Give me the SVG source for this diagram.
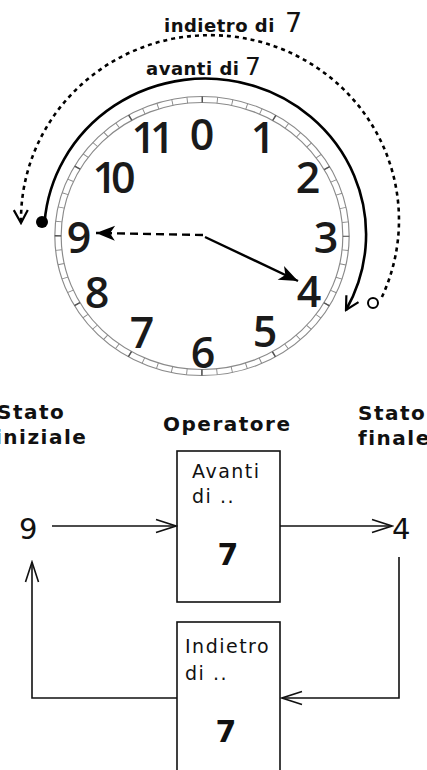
<svg xmlns="http://www.w3.org/2000/svg" width="427" height="770" viewBox="0 0 427 770">
<style>
  .dig { font-family: "Open Sans", "DejaVu Sans", sans-serif; font-size: 43px; font-weight: 600; fill: #1a1a1a; text-anchor: middle; }
  .pair { letter-spacing: -6px; }
  .lbl { font-family: "DejaVu Sans", sans-serif; font-weight: bold; font-size: 18px; fill: #111; letter-spacing: 0.5px; }
  .big7 { font-family: "DejaVu Sans", sans-serif; font-weight: normal; fill: #111; }
  .head { font-family: "DejaVu Sans", sans-serif; font-weight: bold; font-size: 20px; fill: #111; letter-spacing: 1.5px; }
  .boxt { font-family: "DejaVu Sans", sans-serif; font-size: 19px; fill: #111; letter-spacing: 1.5px; }
  .box7 { font-family: "DejaVu Sans", sans-serif; font-weight: bold; font-size: 30px; fill: #111; text-anchor: middle; }
  .state { font-family: "DejaVu Sans", sans-serif; font-size: 29px; fill: #111; }
  .box { fill: #fff; stroke: #111; stroke-width: 1.6; }
  .conn { fill: none; stroke: #111; stroke-width: 1.6; }
  .ring { fill: none; stroke: #8a8a8a; stroke-width: 1.1; }
</style>
<defs>
  <marker id="fillArrow" markerUnits="userSpaceOnUse" viewBox="-1 -9 21 18" refX="19" refY="0" markerWidth="21" markerHeight="18" orient="auto">
    <path d="M0,-7.5 L19,0 L0,7.5 L5,0 Z" fill="#000"/>
  </marker>
  <marker id="openArc" markerUnits="userSpaceOnUse" viewBox="-16 -10 18 20" refX="0" refY="0" markerWidth="18" markerHeight="20" orient="auto">
    <path d="M-13,-7 L0,0 L-13,7" fill="none" stroke="#000" stroke-width="2.2"/>
  </marker>
  <marker id="openConn" markerUnits="userSpaceOnUse" viewBox="-22 -9 24 18" refX="0" refY="0" markerWidth="24" markerHeight="18" orient="auto">
    <path d="M-20,-6.5 L0,0 L-20,6.5" fill="none" stroke="#111" stroke-width="1.6"/>
  </marker>
</defs>
<rect width="427" height="770" fill="#fff"/>

<g id="clock-face" transform="translate(202,236) scale(1.055,1)">
  <circle class="ring" r="139.5"/>
  <circle class="ring" r="133.5"/>
  <circle r="136.5" fill="none" stroke="#8a8a8a" stroke-width="6" stroke-dasharray="0.9 13.395" stroke-dashoffset="0.45"/>
  <circle r="136.5" fill="none" stroke="#555" stroke-width="6" stroke-dasharray="1.4 70.074" stroke-dashoffset="0.7"/>
</g>

<g id="clock-numbers">
  <text class="dig" x="202" y="150">0</text>
  <text class="dig" x="263" y="153">1</text>
  <text class="dig pair" x="150" y="153">11</text>
  <text class="dig pair" x="111" y="193">10</text>
  <text class="dig" x="308" y="193">2</text>
  <text class="dig" x="326" y="253">3</text>
  <text class="dig" x="79" y="253">9</text>
  <text class="dig" x="309" y="307">4</text>
  <text class="dig" x="97" y="308">8</text>
  <text class="dig" x="142" y="348">7</text>
  <text class="dig" x="265" y="347">5</text>
  <text class="dig" x="203" y="368">6</text>
</g>

<g id="labels-top">
  <text class="lbl" x="164" y="32">indietro di<tspan class="big7" x="285" font-size="27">7</tspan></text>
  <text class="lbl" x="146" y="75">avanti di<tspan class="big7" x="245" font-size="25">7</tspan></text>
</g>

<g id="clock-connectors">
  <path d="M44.6,222 A161,156 0 1,1 346,310" fill="none" stroke="#000" stroke-width="2.6" marker-end="url(#openArc)"/>
  <circle cx="42" cy="222" r="6" fill="#000"/>
  <path d="M381.9,297 A189,185 0 1,0 21,223" fill="none" stroke="#000" stroke-width="2.6" stroke-dasharray="4 4" marker-end="url(#openArc)"/>
  <circle cx="373" cy="303" r="5" fill="#fff" stroke="#000" stroke-width="2"/>
  <path d="M203,235 L96,233" fill="none" stroke="#000" stroke-width="2.4" stroke-dasharray="8 5" marker-end="url(#fillArrow)"/>
  <path d="M205,237 L298,281" fill="none" stroke="#000" stroke-width="2.4" marker-end="url(#fillArrow)"/>
</g>

<g id="headers">
  <text class="head" x="-3" y="419">Stato</text>
  <text class="head" x="-5" y="444">iniziale</text>
  <text class="head" x="163" y="431">Operatore</text>
  <text class="head" x="358" y="420">Stato</text>
  <text class="head" x="358" y="445">finale</text>
</g>

<g id="state-initial">
  <text class="state" x="19" y="539">9</text>
</g>
<g id="state-final">
  <text class="state" x="392" y="539">4</text>
</g>

<g id="op-avanti">
  <rect class="box" x="177" y="451" width="103" height="151"/>
  <text class="boxt" x="192" y="478">Avanti</text>
  <text class="boxt" x="192" y="503">di ..</text>
  <text class="box7" x="228" y="565">7</text>
</g>

<g id="op-indietro">
  <rect class="box" x="177" y="622" width="103" height="160"/>
  <text class="boxt" x="185" y="653">Indietro</text>
  <text class="boxt" x="185" y="680">di ..</text>
  <text class="box7" x="226" y="742">7</text>
</g>

<g id="connectors">
  <path class="conn" d="M52,526 H176" marker-end="url(#openConn)"/>
  <path class="conn" d="M280,526 H392" marker-end="url(#openConn)"/>
  <path class="conn" d="M399,557 V698 H282" marker-end="url(#openConn)"/>
  <path class="conn" d="M177,698 H32 V562" marker-end="url(#openConn)"/>
</g>
</svg>
